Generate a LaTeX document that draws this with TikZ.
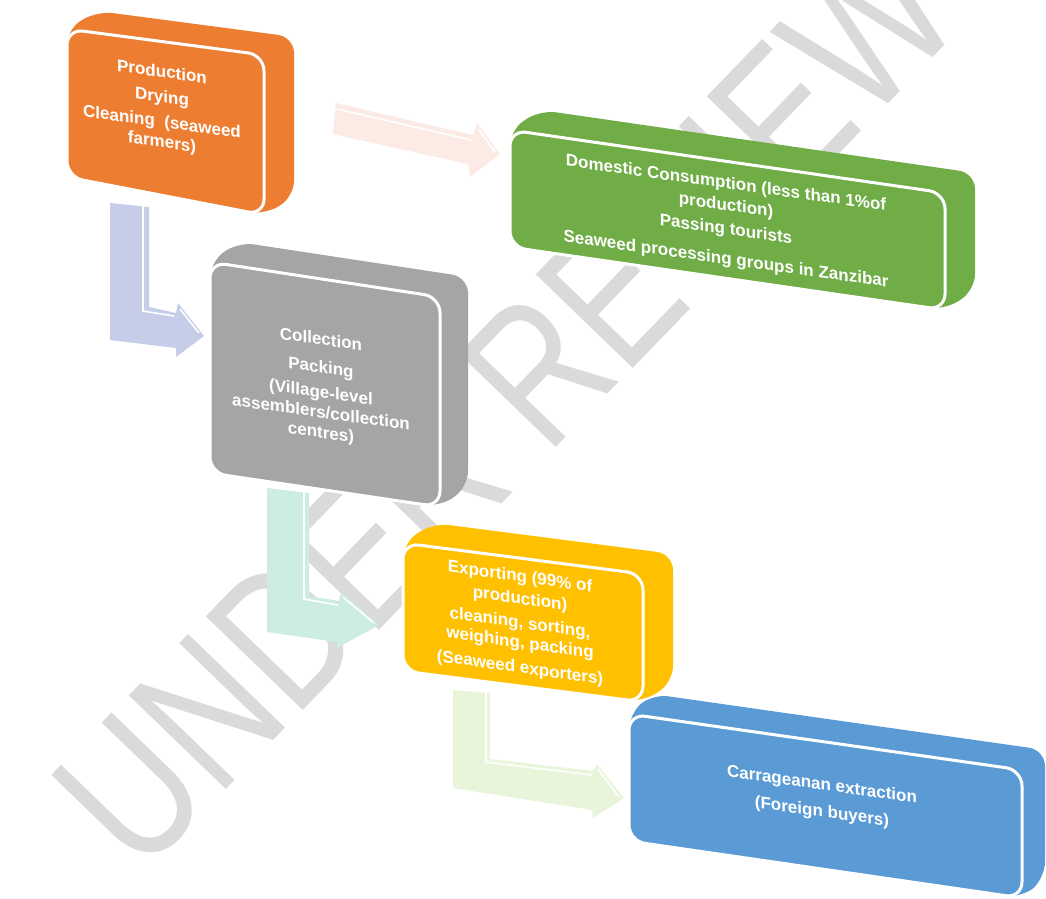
\documentclass[tikz,border=0pt]{standalone}
\usepackage{fontspec}
\setmainfont{Liberation Sans}
\definecolor{cOrange}{HTML}{ED7D31}
\definecolor{cGreen}{HTML}{70AD47}
\definecolor{cGray}{HTML}{A5A5A5}
\definecolor{cYellow}{HTML}{FFC000}
\definecolor{cBlue}{HTML}{5B9BD5}
\definecolor{aPink}{HTML}{FCEBE5}
\definecolor{aLav}{HTML}{C5CDE8}
\definecolor{aMint}{HTML}{CCEDDF}
\definecolor{aPale}{HTML}{E8F5DA}
\definecolor{wmark}{HTML}{DADADA}
\begin{document}
\begin{tikzpicture}[x=1pt,y=-1pt,
  backface/.style={rounded corners=16pt},
  frontface/.style={rounded corners=16pt, draw=white, line width=3pt},
  txt/.style={text=white, font=\bfseries\fontsize{17}{20}\selectfont, align=center, inner sep=0pt, yslant=-0.14},
  blockarrow/.style={draw=none},
  hilite/.style={draw=white, line width=1.6pt},
  ]
\useasboundingbox (0,0) rectangle (1046,898);
\fill[white] (0,0) rectangle (1046,898);

% watermark
\begin{scope}[shift={(506,404)}]
\node[rotate=46, xscale=0.78, text=wmark, font=\fontsize{196}{196}\selectfont, inner sep=0pt] (wm) at (0,0) {UNDER REVIEW};
\end{scope}

% ---- arrows ----
% arrow 1: orange -> green
\fill[aPink, blockarrow] (336,103) -- (473,135) -- (477,123) -- (500,154) -- (470,177) -- (468,164) -- (333,134) -- cycle;
\draw[hilite] (337,109) -- (471,140);
\draw[hilite] (479,130) -- (495,152);
% arrow 2: orange -> gray
\fill[aLav, blockarrow] (110,203) -- (149,207) -- (149,307) -- (176,313) -- (178,303) -- (204,336) -- (176,357) -- (176,348) -- (110,340) -- cycle;
\draw[hilite] (143,206) -- (143,311) -- (174,316);
\draw[hilite] (180,309) -- (199,333);
% arrow 3: gray -> yellow
\fill[aMint, blockarrow] (267,488) -- (309,493) -- (309,596) -- (339,601) -- (341,592) -- (379,625) -- (337,648) -- (337,642) -- (267,632) -- cycle;
\draw[hilite] (304,492) -- (304,599) -- (338,605);
\draw[hilite] (343,597) -- (374,623);
% arrow 4: yellow -> blue
\fill[aPale, blockarrow] (453,690) -- (490,693) -- (490,759) -- (593,771) -- (597,764) -- (624,798) -- (593,818) -- (592,810) -- (453,788) -- cycle;
\draw[hilite] (486,692) -- (486,762) -- (592,775);
\draw[hilite] (598,769) -- (619,797);

% ---- boxes (extruded hull, then front face) ----
% orange
\fill[cOrange, backface] (67,29) -- (97,11) -- (294,37) -- (294,197) -- (264,215) -- (67,177) -- cycle;
\filldraw[fill=cOrange, frontface] (67,29) -- (264,55) -- (264,215) -- (67,177) -- cycle;
% green
\fill[cGreen, backface] (510,130) -- (540,110) -- (975,173) -- (975,290) -- (945,310) -- (510,247) -- cycle;
\filldraw[fill=cGreen, frontface] (510,130) -- (945,193) -- (945,310) -- (510,247) -- cycle;
% gray
\fill[cGray, backface] (210,262) -- (238,242) -- (468,277) -- (468,487) -- (440,507) -- (210,473) -- cycle;
\filldraw[fill=cGray, frontface] (210,262) -- (440,297) -- (440,507) -- (210,473) -- cycle;
% yellow
\fill[cYellow, backface] (403,543) -- (433,523) -- (673,554) -- (673,682) -- (643,702) -- (403,671) -- cycle;
\filldraw[fill=cYellow, frontface] (403,543) -- (643,574) -- (643,702) -- (403,671) -- cycle;
% blue
\fill[cBlue, backface] (629,714) -- (652,694) -- (1045,750) -- (1045,878) -- (1022,898) -- (629,841) -- cycle;
\filldraw[fill=cBlue, frontface] (629,714) -- (1022,770) -- (1022,898) -- (629,841) -- cycle;

% ---- texts ----
\begin{scope}[shift={(162,108)}]
\node[txt] (tOrange) at (0,0) {Production\\[5pt]Drying\\[5pt]Cleaning\ \ (seaweed\\farmers)};
\end{scope}
\begin{scope}[shift={(726,222)}]
\node[txt] (tGreen) at (0,0) {Domestic Consumption (less than 1\%of\\[2pt]production)\\[4pt]Passing tourists\\[10pt]Seaweed processing groups in Zanzibar};
\end{scope}
\begin{scope}[shift={(321,387)}]
\node[txt] (tGray) at (0,0) {Collection\\[8pt]Packing\\[5pt](Village-level\\assemblers/collection\\centres)};
\end{scope}
\begin{scope}[shift={(520,623)}]
\node[txt] (tYellow) at (0,0) {Exporting (99\% of\\[2pt]production)\\[4pt]cleaning, sorting,\\weighing, packing\\[5pt](Seaweed exporters)};
\end{scope}
\begin{scope}[shift={(822,799)}]
\node[txt] (tBlue) at (0,0) {Carrageanan extraction\\[7pt](Foreign buyers)};
\end{scope}
\end{tikzpicture}
\end{document}
